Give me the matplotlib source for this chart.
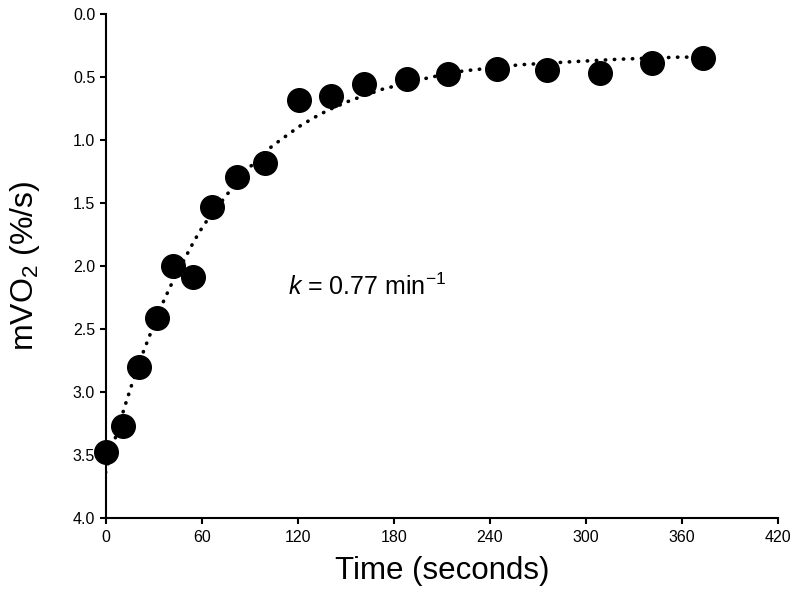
import numpy as np
import matplotlib.pyplot as plt

plt.rcParams['font.family'] = ['Liberation Sans', 'DejaVu Sans']
plt.rcParams['mathtext.fontset'] = 'custom'
plt.rcParams['mathtext.rm'] = 'Liberation Sans'
plt.rcParams['mathtext.it'] = 'Liberation Sans:italic'

# measured points
time_s = [0, 11, 21, 32, 42, 54.5, 66.5, 82, 99.5, 121, 141, 161.5, 188,
          214, 244.5, 276, 309, 341.5, 373]
mvo2 = [3.48, 3.27, 2.80, 2.41, 2.00, 2.09, 1.53, 1.29, 1.18, 0.68, 0.645,
        0.55, 0.51, 0.47, 0.435, 0.44, 0.465, 0.39, 0.35]

# dotted fit curve
fit_t = [0, 5.5, 11.6, 16.4, 23, 28.8, 36.5, 40.9, 50.3, 55.3, 60.5, 63.8,
         75.9, 88, 100.7, 109, 121, 130.2, 139.1, 152.7, 173, 202.7, 223.5,
         234, 259, 290, 321, 357, 378]
fit_y = [3.64, 3.39, 3.13, 2.94, 2.70, 2.51, 2.27, 2.15, 1.92, 1.80, 1.69,
         1.63, 1.43, 1.24, 1.08, 1.00, 0.89, 0.82, 0.76, 0.685, 0.594, 0.50,
         0.449, 0.435, 0.40, 0.377, 0.356, 0.34, 0.338]

xticks = [0, 60, 120, 180, 240, 300, 360, 420]
yticks = [0.0, 0.5, 1.0, 1.5, 2.0, 2.5, 3.0, 3.5, 4.0]

fig = plt.figure(figsize=(8, 6), dpi=100)
ax = fig.add_axes([0.132, 0.137, 0.8405, 0.839])

ax.plot(fit_t, fit_y, color='black', lw=2.6, linestyle=(0, (0.1, 2.4)),
        dash_capstyle='round', zorder=2)
ax.plot(time_s, mvo2, 'o', color='black', markersize=17, zorder=3,
        clip_on=False)

ax.set_xlim(0, 420)
ax.set_ylim(4.0, 0.0)
ax.set_xticks(xticks)
ax.set_yticks(yticks)
ax.set_yticklabels(['%.1f' % v for v in yticks])

for s in ['top', 'right']:
    ax.spines[s].set_visible(False)
for s in ['left', 'bottom']:
    ax.spines[s].set_linewidth(1.5)
ax.tick_params(direction='out', length=4, width=1.5, labelsize=11.5)
ax.tick_params(axis='x', pad=5)

ax.set_xlabel('Time (seconds)', fontsize=22.5, labelpad=8)
ax.set_ylabel('mVO$_2$ (%/s)', fontsize=23, labelpad=22)

ax.text(114, 2.23, '$k$ = 0.77 min$^{-1}$', fontsize=18, va='baseline')

fig.savefig('out.png', dpi=100)
